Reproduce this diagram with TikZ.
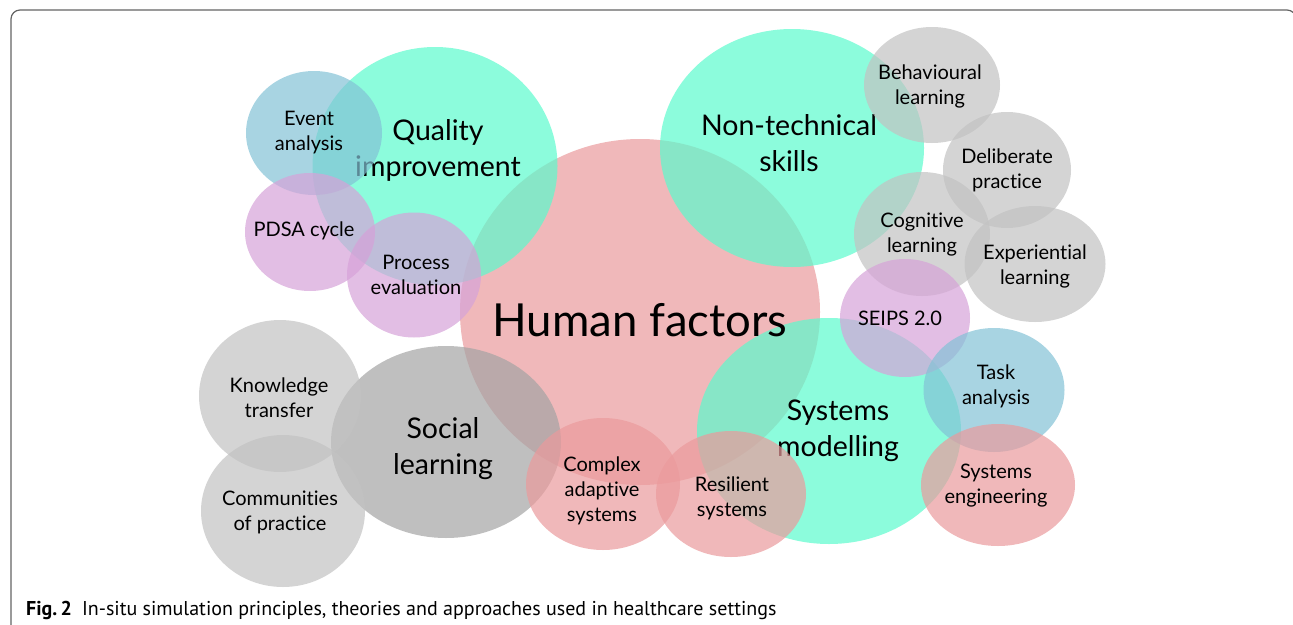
\documentclass[tikz,border=0pt]{standalone}
\usepackage{fontspec}
\setmainfont{Lato}[Ligatures={NoCommon,NoRare,NoDiscretionary}]
\newfontfamily\capfont{PT Sans}
\usetikzlibrary{shapes.geometric}
\definecolor{pinkc}{RGB}{234,154,156}
\definecolor{tealc}{RGB}{91,251,205}
\definecolor{grayc}{RGB}{194,194,194}
\definecolor{dgrayc}{RGB}{164,164,164}
\definecolor{bluec}{RGB}{131,194,214}
\definecolor{purpc}{RGB}{214,162,216}
\definecolor{framec}{RGB}{100,100,100}
\tikzset{
  blob/.style={ellipse, inner sep=0pt, draw=none, fill opacity=0.7},
  smalltxt/.style={font=\fontsize{20}{25}\selectfont, align=center, text=black, inner sep=0pt},
  bigtxt/.style={font=\fontsize{28.5}{36}\selectfont, align=center, text=black, inner sep=0pt},
  hugetxt/.style={font=\fontsize{45.5}{50}\selectfont, align=center, text=black, inner sep=0pt},
  framestyle/.style={draw=framec, line width=1.2pt, rounded corners=9pt},
}
\begin{document}
\begin{tikzpicture}[x=1pt,y=-1pt]
\useasboundingbox (0,0) rectangle (1293,624);
\draw[framestyle] (11,640) -- (11,10) -- (1296,10) -- (1296,640);

% big circles
\node[blob, fill=pinkc, minimum width=360, minimum height=346] (hf) at (640,312) {};

\node[blob, fill=tealc, minimum width=245, minimum height=238] (qi) at (435,166) {};
\node[bigtxt] (qit) at (438,150) {Quality\\improvement};

\node[blob, fill=tealc, minimum width=264, minimum height=238] (nt) at (792,148) {};
\node[bigtxt] (ntt) at (789,143) {Non-technical\\skills};

\node[blob, fill=tealc, minimum width=264, minimum height=226] (sm) at (829,431) {};
\node[bigtxt] (smt) at (838,431) {Systems\\modelling};

\node[blob, fill=dgrayc, minimum width=230, minimum height=192] (sl) at (446,442) {};
\node[bigtxt] (slt) at (443,449) {Social\\learning};

\node[hugetxt] (hft) at (640,320) {Human factors};

% small circles, left group
\node[blob, fill=bluec, minimum width=136, minimum height=124] (ea) at (314,133) {};
\node[smalltxt] (eat) at (309,133) {Event\\analysis};

\node[blob, fill=purpc, minimum width=130, minimum height=118] (pd) at (310,232) {};
\node[smalltxt] (pdt) at (304,231) {PDSA cycle};

\node[blob, fill=purpc, minimum width=134, minimum height=125] (pe) at (414,275) {};
\node[smalltxt] (pet) at (416,275) {Process\\evaluation};

\node[blob, fill=grayc, minimum width=162, minimum height=152] (kt) at (280,396) {};
\node[smalltxt] (ktt) at (279,398) {Knowledge\\transfer};

\node[blob, fill=grayc, minimum width=164, minimum height=152] (cp) at (283,511) {};
\node[smalltxt] (cpt) at (280,512) {Communities\\of practice};

% bottom middle
\node[blob, fill=pinkc, minimum width=154, minimum height=132] (ca) at (603,484) {};
\node[smalltxt] (cat) at (602,491) {Complex\\adaptive\\systems};

\node[blob, fill=pinkc, minimum width=150, minimum height=126] (rs) at (731,494) {};
\node[smalltxt] (rst) at (732,498) {Resilient\\systems};

% right group
\node[blob, fill=grayc, minimum width=136, minimum height=116] (bl) at (932,85) {};
\node[smalltxt] (blt) at (930,86) {Behavioural\\learning};

\node[blob, fill=grayc, minimum width=128, minimum height=116] (dp) at (1007,170) {};
\node[smalltxt] (dpt) at (1007,170) {Deliberate\\practice};

\node[blob, fill=grayc, minimum width=136, minimum height=124] (cl) at (922,234) {};
\node[smalltxt] (clt) at (922,235) {Cognitive\\learning};

\node[blob, fill=grayc, minimum width=141, minimum height=116] (el) at (1035,264) {};
\node[smalltxt] (elt) at (1035,266) {Experiential\\learning};

\node[blob, fill=purpc, minimum width=130, minimum height=118] (se) at (905,318) {};
\node[smalltxt] (set) at (900,318) {SEIPS 2.0};

\node[blob, fill=bluec, minimum width=141, minimum height=124] (ta) at (994,390) {};
\node[smalltxt] (tat) at (996,386) {Task\\analysis};

\node[blob, fill=pinkc, minimum width=154, minimum height=122] (sy) at (998,485) {};
\node[smalltxt] (syt) at (996,486) {Systems\\engineering};

% caption
\node[anchor=base west, inner sep=0pt, font=\capfont\fontsize{20}{24}\selectfont, text=black] (cap) at (26,615)
  {\textbf{Fig.\,2}\hspace{10pt}In-situ simulation principles, theories and approaches used in healthcare settings};
\end{tikzpicture}
\end{document}
